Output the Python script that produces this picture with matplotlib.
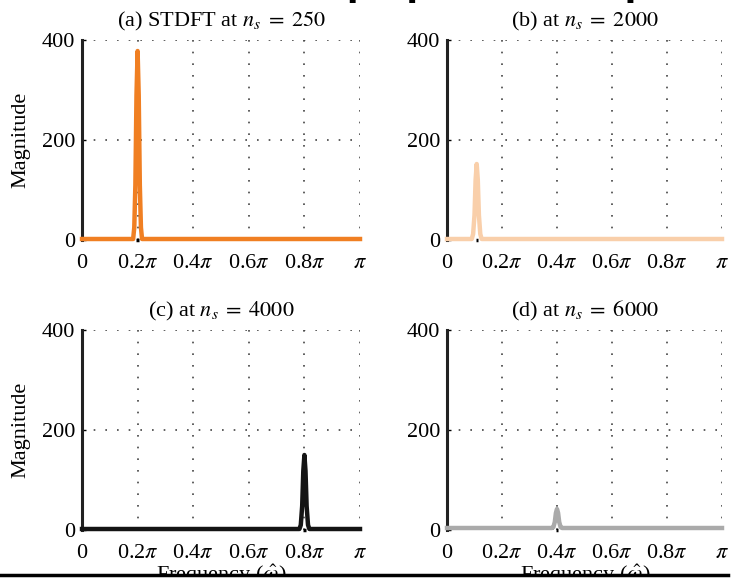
import matplotlib
matplotlib.use("Agg")
import matplotlib.pyplot as plt
from matplotlib.patches import Rectangle
from matplotlib.lines import Line2D
from matplotlib.transforms import offset_copy

plt.rcParams['font.family'] = 'serif'
plt.rcParams['font.serif'] = ['Liberation Serif', 'DejaVu Serif']
plt.rcParams['mathtext.fontset'] = 'stix'

# frequency axis in units of pi, magnitudes read per snapshot
freq_a = [0.0, 0.184, 0.188, 0.192, 0.196, 0.200, 0.204, 0.208, 0.212, 0.216, 1.0]
mag_a = [2, 2, 25, 110, 290, 378, 290, 110, 25, 2, 2]

freq_b = [0.0, 0.090, 0.095, 0.100, 0.104, 0.108, 0.112, 0.116, 0.121, 0.126, 1.0]
mag_b = [2, 2, 12, 50, 120, 152, 120, 50, 12, 2, 2]

freq_c = [0.0, 0.782, 0.787, 0.792, 0.796, 0.800, 0.804, 0.808, 0.813, 0.818, 1.0]
mag_c = [2, 2, 10, 48, 118, 150, 118, 48, 10, 2, 2]

freq_d = [0.0, 0.382, 0.387, 0.392, 0.396, 0.400, 0.404, 0.408, 0.413, 0.418, 1.0]
mag_d = [4, 4, 6, 16, 34, 42, 34, 16, 6, 4, 4]

peak_centers = [0.200, 0.108, 0.800, 0.400]
series = [(freq_a, mag_a), (freq_b, mag_b), (freq_c, mag_c), (freq_d, mag_d)]
colors = ['#f07f22', '#f9cfaa', '#141414', '#aaaaaa']
titles = [r'(a) STDFT at $n_s\;=\;250$', r'(b) at $n_s\;=\;2000$',
          r'(c) at $n_s\;=\;4000$', r'(d) at $n_s\;=\;6000$']

xticks = [0, 0.2, 0.4, 0.6, 0.8, 1.0]
xticklabels = ['0', r'0.2$\pi$', r'0.4$\pi$', r'0.6$\pi$', r'0.8$\pi$', r'$\pi$']
yticks = [0, 200, 400]

W, H = 731, 581
fig = plt.figure(figsize=(W / 100, H / 100), dpi=100)

# panel boxes in pixels: left, right, top, bottom
boxes = [(82, 360, 40, 240), (447, 722, 40, 240),
         (82, 360, 330, 530), (447, 722, 330, 530)]

for i, (l, r, t, b) in enumerate(boxes):
    ax = fig.add_axes([l / W, 1 - b / H, (r - l) / W, (b - t) / H])
    fx, my = series[i]
    ax.plot(fx, my, color=colors[i], lw=3.2, solid_joinstyle='round',
            clip_on=False, zorder=3)
    c = peak_centers[i]
    ax.plot([c - 0.004, c + 0.004], [0, 0], color='black', lw=2.5,
            clip_on=False, zorder=4, solid_capstyle='butt')
    ax.set_xlim(0, 1)
    ax.set_ylim(0, 400)
    ax.set_xticks(xticks)
    ax.set_xticklabels([])
    # tick labels drawn on a shared baseline
    trans = offset_copy(ax.get_xaxis_transform(), fig=fig, y=-28, units='dots')
    for xv, lab in zip(xticks, xticklabels):
        ax.text(xv, 0, lab, transform=trans, ha='center', va='baseline',
                fontsize=16)
    ax.set_yticks(yticks)
    ax.tick_params(axis='both', labelsize=16, direction='in', length=3,
                   width=1, color='black')
    ax.tick_params(axis='x', length=0)
    ax.tick_params(axis='y', pad=5)
    for s in ['top', 'right', 'bottom']:
        ax.spines[s].set_visible(False)
    ax.spines['left'].set_linewidth(2.2)
    ax.spines['left'].set_color('#222222')
    ax.grid(True, color='#444444', linestyle=(0, (1, 6)), linewidth=1.2)
    ax.set_axisbelow(True)
    ax.set_title(titles[i], fontsize=16, pad=10)
    if i % 2 == 0:
        ax.set_ylabel('Magnitude', fontsize=16, labelpad=8)

# cut-off heading above the panels
fig.text(0.71, 1 + 4 / H, 'Chirp Spectra (Snapshots)', ha='center',
         va='baseline', fontsize=24, fontweight='bold', family='DejaVu Sans')

# x labels under the bottom panels, partly hidden by the rule below
for cx in [221, 585]:
    fig.text(cx / W, 1 - 563 / H, r'Frequency ($\hat{\omega}$)', ha='center',
             va='top', fontsize=16)

fig.patches.append(Rectangle((0, 0), 1, 6 / H, transform=fig.transFigure,
                             facecolor='white', edgecolor='none', zorder=10))
fig.lines.append(Line2D([0, 728 / W], [1 - 575 / H, 1 - 575 / H],
                        transform=fig.transFigure, color='black', lw=2.5,
                        zorder=11))

fig.savefig('out.png', dpi=100)
